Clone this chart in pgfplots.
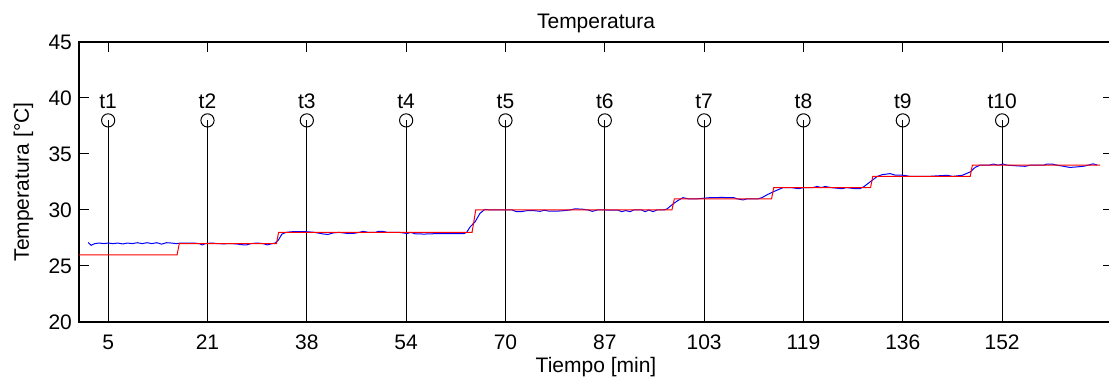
\documentclass[border=0pt]{standalone}
\usepackage{pgfplots}
\pgfplotsset{compat=1.18}
\usepackage{pgfplotstable}
\usepackage{fontspec}
\setmainfont{Liberation Sans}
\pgfplotstableread{
x y lab
5 38 t1
21.35 38 t2
37.7 38 t3
54.05 38 t4
70.4 38 t5
86.75 38 t6
103.1 38 t7
119.45 38 t8
135.8 38 t9
152.15 38 t10
}\stems
\pgfplotstableread{
x y
1.7 27.10
2.2 26.85
2.8 27.00
3.5 27.05
4.3 27.00
5.0 27.05
5.8 27.00
6.6 27.05
7.4 26.97
8.2 27.05
9.0 27.00
9.8 27.08
10.6 27.00
11.4 27.08
12.2 27.00
13.0 27.08
13.8 26.95
14.6 27.08
15.4 27.05
16.2 27.00
17.0 27.05
18.0 27.03
19.0 27.05
20.0 27.00
20.5 26.88
21.0 27.00
22.0 27.05
23.0 27.00
24.0 26.98
25.0 27.00
26.0 26.98
27.0 26.90
27.8 26.88
28.5 27.00
29.5 27.05
30.5 27.00
31.2 26.88
32.0 27.00
32.5 27.05
33.0 27.30
33.6 27.85
34.3 28.00
35.0 28.05
36.0 28.08
37.0 28.08
38.0 28.05
39.0 28.00
40.5 27.85
41.2 27.82
42.0 27.95
43.0 28.00
44.5 27.90
45.5 27.92
46.3 28.00
47.0 28.10
47.8 28.00
49.0 28.00
49.5 28.10
50.1 28.10
51.0 28.00
53.0 28.00
54.2 27.90
54.8 28.00
55.5 27.88
57.0 27.85
58.5 27.88
60.0 27.88
62.0 27.88
63.5 27.88
64.0 28.00
64.6 28.50
65.4 28.95
66.2 29.70
67.0 30.05
68.0 30.00
70.0 30.00
71.5 30.00
72.2 29.85
73.0 29.85
74.0 29.95
75.0 29.95
76.1 29.88
76.8 29.98
77.5 29.90
79.0 29.90
80.2 29.95
81.0 30.00
81.8 30.10
83.0 30.08
84.0 30.00
84.7 29.88
85.5 30.00
87.0 30.00
89.0 29.98
89.5 29.85
90.2 29.95
90.9 29.85
91.5 30.00
92.8 30.00
93.4 29.85
94.0 30.00
94.7 29.85
95.3 30.00
96.5 30.00
97.0 30.10
98.0 30.55
98.8 30.85
99.6 31.10
100.5 31.00
102.0 31.00
104.0 31.10
106.0 31.12
108.0 31.10
108.5 31.00
109.5 30.90
110.2 31.00
112.0 31.00
112.6 31.10
113.6 31.40
114.8 31.70
116.1 32.00
117.5 32.00
118.6 31.90
119.5 32.00
121.0 32.00
121.7 32.10
122.4 32.00
123.0 32.10
124.0 32.00
125.8 31.90
126.5 32.00
128.0 31.90
128.8 31.92
129.3 32.05
130.4 32.50
131.6 33.00
132.4 33.15
133.7 33.25
134.5 33.12
135.9 33.10
137.0 33.00
140.0 33.00
143.1 33.10
144.0 33.00
145.6 33.10
146.9 33.40
147.7 33.80
148.5 34.00
150.0 34.00
150.7 34.10
151.5 34.00
152.3 34.10
153.0 34.00
155.9 33.90
156.8 34.00
159.0 34.00
159.5 34.10
160.4 34.10
161.2 34.00
162.5 33.88
163.3 33.80
164.5 33.85
165.5 33.90
166.3 34.00
167.1 34.12
167.8 34.02
}\measured
\pgfplotstableread{
x y
0.2 26
16.35 26
16.7 27
32.7 27
33.05 28
64.9 28
65.5 30
97.8 30
98.2 31
114.2 31
114.55 32
130.5 32
130.85 33
146.9 33
147.25 34
168.3 34
}\setpoint
\begin{document}
\begin{tikzpicture}
\begin{axis}[
  name=ax,
  scale only axis,
  width=517pt, height=140pt,
  xmin=0.2, xmax=170.4, ymin=20, ymax=45,
  xtick={5,21.35,37.7,54.05,70.4,86.75,103.1,119.45,135.8,152.15},
  xticklabels={5,21,38,54,70,87,103,119,136,152},
  ytick={20,25,30,35,40,45},
  tick align=inside, tick pos=both,
  major tick length=5pt,
  axis line style={line width=0.6pt},
  every tick/.style={black, line width=0.5pt},
  font=\fontsize{10.5}{12}\selectfont,
  /pgf/number format/assume math mode=true,
  title={Temperatura},
  title style={at={(axis description cs:0.5,1)}, anchor=base, yshift=0.5pt},
  xlabel={Tiempo [min]},
  xlabel style={at={(axis description cs:0.5,0)}, anchor=base, yshift=-25.5pt},
  ylabel={Temperatura [°C]},
  ylabel style={at={(axis description cs:-0.0485,0.5)}, anchor=base},
  xticklabel style={yshift=-3pt},
  clip=true,
]
\addplot[black, line width=0.5pt, ycomb, mark=o, mark size=3.3pt,
  mark options={solid, black, line width=0.5pt, fill=none},
  nodes near coords, point meta=explicit symbolic,
  every node near coord/.style={anchor=base, yshift=5.7pt, black, font=\fontsize{10.5}{12}\selectfont}]
  table[x=x, y=y, meta=lab] {\stems};
\addplot[blue, line width=0.5pt, mark=none] table[x=x, y=y] {\measured};
\addplot[red, line width=0.5pt, mark=none] table[x=x, y=y] {\setpoint};
\end{axis}
\pgfresetboundingbox
\useasboundingbox ([xshift=-39.5pt,yshift=-31.5pt]ax.south west) rectangle ([xshift=515pt,yshift=21pt]ax.north west);
\end{tikzpicture}
\end{document}
